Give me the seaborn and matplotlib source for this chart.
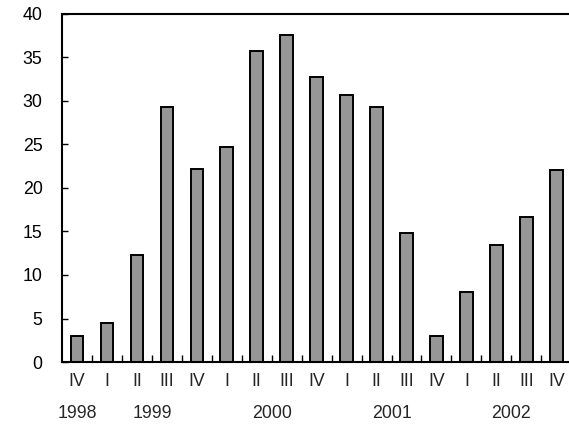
import numpy as np
import pandas as pd
import seaborn as sns
import matplotlib.pyplot as plt
from matplotlib.ticker import FixedLocator

# ====================== DATA ======================
quarters = ["IV", "I", "II", "III", "IV", "I", "II", "III", "IV",
            "I", "II", "III", "IV", "I", "II", "III", "IV"]
years = [1998, 1999, 1999, 1999, 1999, 2000, 2000, 2000, 2000,
         2001, 2001, 2001, 2001, 2002, 2002, 2002, 2002]
values = [3.0, 4.5, 12.3, 29.3, 22.2, 24.7, 35.7, 37.5, 32.7,
          30.7, 29.3, 14.8, 3.0, 8.0, 13.4, 16.7, 22.0]

df = pd.DataFrame({"idx": np.arange(len(values)), "q": quarters,
                   "year": years, "value": values})

# ====================== PLOT ======================
sns.set_style("white")
plt.rcParams["font.family"] = ["Liberation Sans", "DejaVu Sans"]
fs = 12.8

fig = plt.figure(figsize=(5.69, 4.28), dpi=100)
ax = fig.add_axes([0.109, 0.154, 0.895, 0.814])

sns.barplot(data=df, x="idx", y="value", color="#969696", saturation=1,
            edgecolor="black", linewidth=1.4, width=0.42, ax=ax)

ax.set_ylim(0, 40)
ax.set_xlim(-0.5, len(values) - 0.5)
ax.set_yticks(np.arange(0, 41, 5))
ax.tick_params(axis="y", direction="in", length=4, width=1, labelsize=fs,
               pad=14, left=True, colors="black")

ax.set_xticks(df["idx"])
ax.set_xticklabels(quarters, fontsize=fs)
ax.tick_params(axis="x", which="major", length=0, pad=8)
ax.xaxis.set_minor_locator(FixedLocator(np.arange(0.5, len(values) - 1, 1)))
ax.tick_params(axis="x", which="minor", direction="in", length=5, width=1,
               bottom=True, colors="black")

# year labels centred under their quarters
for yr, grp in df.groupby("year"):
    ax.text(grp["idx"].mean(), -0.147, str(yr), transform=ax.get_xaxis_transform(),
            ha="center", va="center", fontsize=fs)

ax.set_xlabel("")
ax.set_ylabel("")
for side in ["left", "top", "bottom"]:
    ax.spines[side].set_visible(True)
    ax.spines[side].set_color("black")
    ax.spines[side].set_linewidth(1.5)
ax.spines["right"].set_visible(False)

plt.savefig("out.png", dpi=100)
